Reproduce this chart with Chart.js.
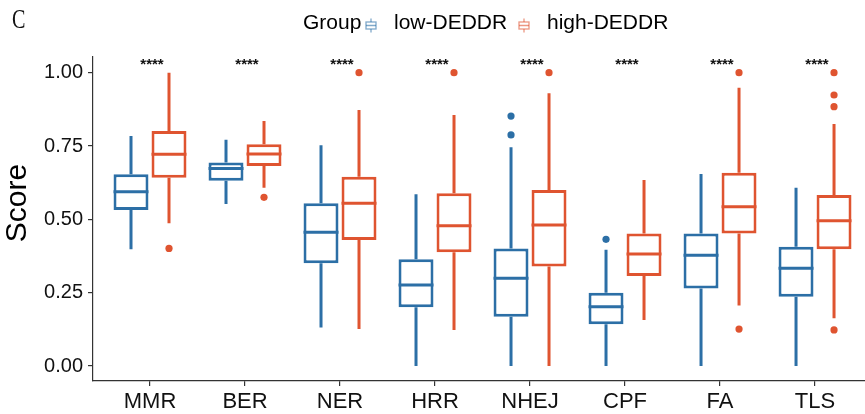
<!DOCTYPE html>
<html>
<head>
<meta charset="utf-8">
<script src="https://cdn.jsdelivr.net/npm/chart.js@4"></script>
<style>
  body { margin: 0; background: #fff; }
</style>
</head>
<body>
<canvas id="chart" width="865" height="414"></canvas>
<script>
const categories = ['MMR', 'BER', 'NER', 'HRR', 'NHEJ', 'CPF', 'FA', 'TLS']
const yTicks = [0, 0.25, 0.5, 0.75, 1]
const signif = ['****', '****', '****', '****', '****', '****', '****', '****']

// low-DEDDR boxes
const lowMin = [0.398, 0.552, 0.131, 0.000, 0.000, 0.000, 0.000, 0.000]
const lowQ1 = [0.532, 0.632, 0.350, 0.200, 0.168, 0.142, 0.264, 0.236]
const lowMed = [0.594, 0.673, 0.456, 0.276, 0.299, 0.202, 0.378, 0.333]
const lowQ3 = [0.654, 0.694, 0.555, 0.364, 0.401, 0.250, 0.452, 0.407]
const lowMax = [0.784, 0.771, 0.753, 0.586, 0.746, 0.396, 0.655, 0.608]
const lowOut = [[], [], [], [], [0.852, 0.788], [0.432], [], []]

// high-DEDDR boxes
const highMin = [0.487, 0.608, 0.126, 0.123, 0.000, 0.157, 0.206, 0.163]
const highQ1 = [0.642, 0.682, 0.430, 0.388, 0.339, 0.307, 0.452, 0.398]
const highMed = [0.722, 0.723, 0.555, 0.478, 0.481, 0.382, 0.543, 0.495]
const highQ3 = [0.801, 0.756, 0.645, 0.589, 0.600, 0.452, 0.659, 0.583]
const highMax = [1.000, 0.835, 0.873, 0.856, 0.930, 0.634, 0.949, 0.825]
const highOut = [[0.401], [0.575], [1.000], [1.000], [1.000], [], [1.000, 0.126], [1.000, 0.924, 0.884, 0.123]]

const blue = '#2c6fa6'
const red = '#df5430'
const groups = [
  { label: 'low-DEDDR', color: blue, min: lowMin, q1: lowQ1, med: lowMed, q3: lowQ3, max: lowMax, out: lowOut },
  { label: 'high-DEDDR', color: red, min: highMin, q1: highQ1, med: highMed, q3: highQ3, max: highMax, out: highOut }
]

const font = 'Liberation Sans, Arial, sans-serif'

// whiskers, medians, outliers + stars, legend, titles
const boxExtras = {
  id: 'boxExtras',
  beforeDraw(chart) {
    const c = chart.ctx
    c.save()
    c.fillStyle = '#fff'
    c.fillRect(0, 0, chart.width, chart.height)
    c.restore()
  },
  afterDatasetsDraw(chart) {
    const c = chart.ctx
    const ys = chart.scales.y
    const xs = chart.scales.x
    c.save()
    groups.forEach((g, d) => {
      const meta = chart.getDatasetMeta(d)
      meta.data.forEach((bar, i) => {
        const x = bar.x
        const w = bar.width
        c.strokeStyle = g.color
        c.lineWidth = 3
        c.lineCap = 'butt'
        c.beginPath()
        c.moveTo(x, ys.getPixelForValue(g.q3[i]))
        c.lineTo(x, ys.getPixelForValue(g.max[i]))
        c.moveTo(x, ys.getPixelForValue(g.q1[i]))
        c.lineTo(x, ys.getPixelForValue(g.min[i]))
        c.moveTo(x - w / 2, ys.getPixelForValue(g.med[i]))
        c.lineTo(x + w / 2, ys.getPixelForValue(g.med[i]))
        c.stroke()
        c.fillStyle = g.color
        g.out[i].forEach(v => {
          c.beginPath()
          c.arc(x, ys.getPixelForValue(v), 3.6, 0, Math.PI * 2)
          c.fill()
        })
      })
    })
    // significance stars
    c.fillStyle = '#111'
    c.font = 'bold 15px ' + font
    c.textAlign = 'center'
    c.textBaseline = 'alphabetic'
    categories.forEach((cat, i) => {
      c.fillText(signif[i], xs.getPixelForValue(i + 1) + 2, ys.getPixelForValue(1) - 4)
    })
    c.restore()
  },
  afterDraw(chart) {
    const c = chart.ctx
    c.save()
    // panel letter
    c.fillStyle = '#111'
    c.font = '28px Liberation Serif, serif'
    c.textBaseline = 'alphabetic'
    c.translate(12, 28)
    c.scale(0.72, 1)
    c.fillText('C', 0, 0)
    c.restore()

    c.save()
    // y title
    c.fillStyle = '#000'
    c.font = '30px ' + font
    c.textAlign = 'center'
    c.textBaseline = 'middle'
    c.translate(18, 203)
    c.rotate(-Math.PI / 2)
    c.fillText('Score', 0, 0)
    c.restore()

    c.save()
    // legend
    c.font = '21px ' + font
    c.fillStyle = '#000'
    c.textBaseline = 'alphabetic'
    c.fillText('Group', 303, 29)
    const keys = [{ x: 366, tx: 394 }, { x: 519, tx: 547 }]
    groups.forEach((g, d) => {
      const k = keys[d]
      c.globalAlpha = 0.6
      c.strokeStyle = g.color
      c.lineWidth = 1.3
      c.strokeRect(k.x, 22, 10, 7)
      c.beginPath()
      c.moveTo(k.x + 5, 18.5); c.lineTo(k.x + 5, 22)
      c.moveTo(k.x + 5, 29); c.lineTo(k.x + 5, 32.5)
      c.moveTo(k.x, 25.5); c.lineTo(k.x + 10, 25.5)
      c.stroke()
      c.globalAlpha = 1
      c.fillStyle = '#000'
      c.fillText(g.label, k.tx, 29)
    })
    c.restore()
  }
}

new Chart(document.getElementById('chart'), {
  type: 'bar',
  data: {
    datasets: groups.map(g => ({
      label: g.label,
      data: categories.map((cat, i) => ({ x: i + 1, y: [g.q1[i], g.q3[i]] })),
      backgroundColor: '#fff',
      borderColor: g.color,
      borderWidth: 3,
      borderSkipped: false,
      categoryPercentage: 0.8,
      barPercentage: 0.92
    }))
  },
  options: {
    responsive: false,
    animation: false,
    layout: { padding: { top: 57, left: 0, right: 0, bottom: 0 } },
    plugins: { legend: { display: false }, tooltip: { enabled: false } },
    scales: {
      x: {
        type: 'linear',
        offset: false,
        min: 0.4,
        max: 8.526,
        afterBuildTicks: s => { s.ticks = categories.map((cat, i) => ({ value: i + 1 })) },
        afterFit: s => { s.height = 33 },
        ticks: {
          callback: v => categories[v - 1],
          autoSkip: false,
          maxRotation: 0,
          padding: 3,
          color: '#111',
          font: { family: font, size: 22 }
        },
        grid: { offset: false, drawOnChartArea: false, tickLength: 5, color: '#333', lineWidth: 1.2 },
        border: { color: '#333', width: 1.2 }
      },
      y: {
        min: -0.0511,
        max: 1.0535,
        afterBuildTicks: s => { s.ticks = yTicks.map(v => ({ value: v })) },
        afterFit: s => { s.width = 93 },
        ticks: {
          callback: v => v.toFixed(2),
          padding: 5,
          color: '#111',
          font: { family: font, size: 20 }
        },
        grid: { drawOnChartArea: false, tickLength: 5, color: '#333', lineWidth: 1.2 },
        border: { color: '#333', width: 1.2 }
      }
    }
  },
  plugins: [boxExtras]
})
</script>
</body>
</html>
